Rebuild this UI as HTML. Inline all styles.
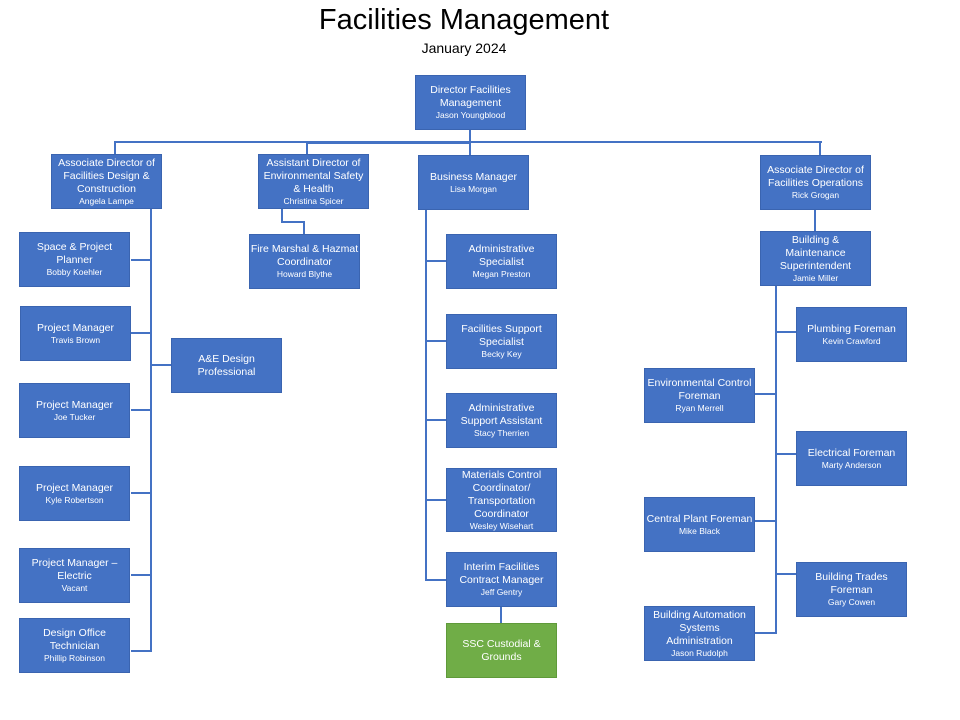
<!DOCTYPE html><html><head><style>
body{margin:0;width:960px;height:720px;background:#fff;position:relative;font-family:"Liberation Sans",sans-serif;overflow:hidden}
.b{position:absolute;width:111px;height:55px;background:#4472C4;border:1px solid #3a64b0;box-sizing:border-box;color:#fff;display:flex;flex-direction:column;justify-content:center;align-items:center;text-align:center;font-size:10.5px;line-height:13px;white-space:nowrap}
.b small{font-size:8.5px;line-height:11px}
.g{background:#70AD47;border-color:#5f9a3a}
.l{position:absolute;background:#4472C4}
.h{height:2px}.v{width:2px}
</style></head><body>
<div style="position:absolute;top:4px;width:928px;text-align:center;font-size:29px">Facilities Management</div>
<div style="position:absolute;top:40px;width:928px;text-align:center;font-size:14px">January 2024</div>

<div class="l v" style="left:469px;top:130px;height:13px"></div>
<div class="l h" style="left:115px;top:141px;width:707px"></div>
<div class="l h" style="left:307px;top:142px;width:163px"></div>
<div class="l v" style="left:114px;top:141px;height:13px"></div>
<div class="l v" style="left:306px;top:141px;height:13px"></div>
<div class="l v" style="left:469px;top:141px;height:14px"></div>
<div class="l v" style="left:819px;top:141px;height:14px"></div>

<div class="l v" style="left:150px;top:209px;height:443px"></div>
<div class="l h" style="left:131px;top:259px;width:20px"></div>
<div class="l h" style="left:131px;top:332px;width:20px"></div>
<div class="l h" style="left:131px;top:409px;width:20px"></div>
<div class="l h" style="left:131px;top:492px;width:20px"></div>
<div class="l h" style="left:131px;top:574px;width:20px"></div>
<div class="l h" style="left:131px;top:650px;width:21px"></div>
<div class="l h" style="left:151px;top:364px;width:20px"></div>

<div class="l v" style="left:281px;top:209px;height:13px"></div>
<div class="l h" style="left:281px;top:221px;width:24px"></div>
<div class="l v" style="left:303px;top:221px;height:13px"></div>

<div class="l v" style="left:425px;top:210px;height:371px"></div>
<div class="l h" style="left:426px;top:260px;width:20px"></div>
<div class="l h" style="left:426px;top:340px;width:20px"></div>
<div class="l h" style="left:426px;top:419px;width:20px"></div>
<div class="l h" style="left:426px;top:499px;width:20px"></div>
<div class="l h" style="left:426px;top:579px;width:20px"></div>
<div class="l v" style="left:500px;top:607px;height:16px"></div>

<div class="l v" style="left:814px;top:210px;height:21px"></div>
<div class="l v" style="left:775px;top:286px;height:348px"></div>
<div class="l h" style="left:776px;top:331px;width:20px"></div>
<div class="l h" style="left:776px;top:453px;width:20px"></div>
<div class="l h" style="left:776px;top:573px;width:20px"></div>
<div class="l h" style="left:755px;top:393px;width:21px"></div>
<div class="l h" style="left:755px;top:520px;width:21px"></div>
<div class="l h" style="left:755px;top:632px;width:21px"></div>

<div class="b" style="left:415px;top:75px">Director Facilities<br>Management<small>Jason Youngblood</small></div>
<div class="b" style="left:51px;top:154px">Associate Director of<br>Facilities Design &amp;<br>Construction<small>Angela Lampe</small></div>
<div class="b" style="left:258px;top:154px">Assistant Director of<br>Environmental Safety<br>&amp; Health<small>Christina Spicer</small></div>
<div class="b" style="left:418px;top:155px">Business Manager<small>Lisa Morgan</small></div>
<div class="b" style="left:760px;top:155px">Associate Director of<br>Facilities Operations<small>Rick Grogan</small></div>

<div class="b" style="left:19px;top:232px">Space &amp; Project<br>Planner<small>Bobby Koehler</small></div>
<div class="b" style="left:20px;top:306px">Project Manager<small>Travis Brown</small></div>
<div class="b" style="left:19px;top:383px">Project Manager<small>Joe Tucker</small></div>
<div class="b" style="left:19px;top:466px">Project Manager<small>Kyle Robertson</small></div>
<div class="b" style="left:19px;top:548px">Project Manager –<br>Electric<small>Vacant</small></div>
<div class="b" style="left:19px;top:618px">Design Office<br>Technician<small>Phillip Robinson</small></div>
<div class="b" style="left:171px;top:338px">A&amp;E Design<br>Professional</div>
<div class="b" style="left:249px;top:234px">Fire Marshal &amp; Hazmat<br>Coordinator<small>Howard Blythe</small></div>

<div class="b" style="left:446px;top:234px">Administrative<br>Specialist<small>Megan Preston</small></div>
<div class="b" style="left:446px;top:314px">Facilities Support<br>Specialist<small>Becky Key</small></div>
<div class="b" style="left:446px;top:393px">Administrative<br>Support Assistant<small>Stacy Therrien</small></div>
<div class="b" style="left:446px;top:468px;height:64px">Materials Control<br>Coordinator/<br>Transportation<br>Coordinator<small>Wesley Wisehart</small></div>
<div class="b" style="left:446px;top:552px">Interim Facilities<br>Contract Manager<small>Jeff Gentry</small></div>
<div class="b g" style="left:446px;top:623px">SSC Custodial &amp;<br>Grounds</div>

<div class="b" style="left:760px;top:231px">Building &amp;<br>Maintenance<br>Superintendent<small>Jamie Miller</small></div>
<div class="b" style="left:796px;top:307px">Plumbing Foreman<small>Kevin Crawford</small></div>
<div class="b" style="left:644px;top:368px">Environmental Control<br>Foreman<small>Ryan Merrell</small></div>
<div class="b" style="left:796px;top:431px">Electrical Foreman<small>Marty Anderson</small></div>
<div class="b" style="left:644px;top:497px">Central Plant Foreman<small>Mike Black</small></div>
<div class="b" style="left:796px;top:562px">Building Trades<br>Foreman<small>Gary Cowen</small></div>
<div class="b" style="left:644px;top:606px">Building Automation<br>Systems<br>Administration<small>Jason Rudolph</small></div>
</body></html>
